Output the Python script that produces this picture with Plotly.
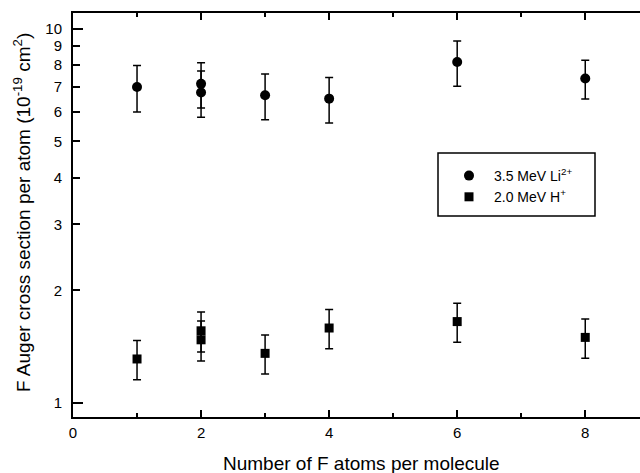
import plotly.graph_objects as go

# Data
n_atoms_li = [1, 2, 2, 3, 4, 6, 8]
sigma_li = [6.98, 7.12, 6.75, 6.64, 6.50, 8.14, 7.36]
err_li = [0.99, 0.98, 0.95, 0.93, 0.90, 1.12, 0.87]

n_atoms_h = [1, 2, 2, 3, 4, 6, 8]
sigma_h = [1.311, 1.559, 1.475, 1.357, 1.586, 1.650, 1.497]
err_h = [0.157, 0.19, 0.18, 0.162, 0.19, 0.197, 0.18]

x_major = [0, 2, 4, 6, 8]
x_minor = [1, 3, 5, 7]
y_ticks = [1, 2, 3, 4, 5, 6, 7, 8, 9, 10]
y_decades = [1, 10]

FONT = "Liberation Sans, Arial, sans-serif"

# plot area in pixels
L, R, T, B = 73, 640, 13, 417
PW, PH = R - L, B - T


def px(xp):
    return (xp - L) / PW


def py(yp):
    return (B - yp) / PH


fig = go.Figure()
fig.add_trace(go.Scatter(
    x=n_atoms_li, y=sigma_li, mode="markers",
    name="3.5 MeV Li<sup>2+</sup>",
    marker=dict(symbol="circle", size=10, color="black"),
    error_y=dict(type="data", array=err_li, visible=True, color="black", thickness=1.5, width=4),
))
fig.add_trace(go.Scatter(
    x=n_atoms_h, y=sigma_h, mode="markers",
    name="2.0 MeV H<sup>+</sup>",
    marker=dict(symbol="square", size=9, color="black"),
    error_y=dict(type="data", array=err_h, visible=True, color="black", thickness=1.5, width=4),
))

fig.update_layout(
    width=640, height=473,
    margin=dict(l=L, r=640 - R, t=T, b=473 - B),
    paper_bgcolor="white", plot_bgcolor="white",
    font=dict(family=FONT, color="black", size=13),
    showlegend=True,
    legend=dict(
        x=px(444), y=py(160), xanchor="left", yanchor="top",
        borderwidth=0, bgcolor="rgba(0,0,0,0)",
        font=dict(size=14, family=FONT),
        itemwidth=40, tracegroupgap=0,
    ),
    xaxis=dict(
        range=[0, 8.855], showgrid=False, zeroline=False,
        showline=True, linecolor="black", linewidth=2, mirror="ticks",
        ticks="inside", ticklen=7, tickwidth=2, tickcolor="black",
        tickvals=x_major, ticktext=[str(v) for v in x_major],
        tickfont=dict(size=15), ticklabelstandoff=1,
        minor=dict(tickvals=x_minor, ticks="inside", ticklen=4, tickwidth=2, tickcolor="black"),
    ),
    yaxis=dict(
        type="log", range=[-0.0374, 1.0417], showgrid=False, zeroline=False,
        showline=True, linecolor="black", linewidth=2, mirror=False,
        ticks="inside", ticklen=7, tickwidth=2, tickcolor="black",
        tickvals=y_ticks, ticktext=[str(v) for v in y_ticks],
        tickfont=dict(size=15), ticklabelstandoff=6,
        minor=dict(tickvals=y_decades, ticks="inside", ticklen=10, tickwidth=2, tickcolor="black"),
    ),
    shapes=[
        dict(type="rect", xref="paper", yref="paper",
             x0=px(438), x1=px(595), y0=py(216), y1=py(153),
             line=dict(color="black", width=1.5), fillcolor="rgba(0,0,0,0)"),
    ],
    annotations=[
        dict(text="Number of F atoms per molecule", xref="paper", yref="paper",
             x=px(361), y=py(463), xanchor="center", yanchor="middle",
             showarrow=False, font=dict(size=19, family=FONT)),
        dict(text="F Auger cross section per atom (10<sup>-19</sup> cm<sup>2</sup>)",
             xref="paper", yref="paper", textangle=-90,
             x=px(22), y=py(213), xanchor="center", yanchor="middle",
             showarrow=False, font=dict(size=19, family=FONT)),
    ],
)

fig.write_html(
    "out.html",
    config={"displayModeBar": False},
    post_script="document.body.style.margin='0';document.body.style.overflow='hidden';",
)
